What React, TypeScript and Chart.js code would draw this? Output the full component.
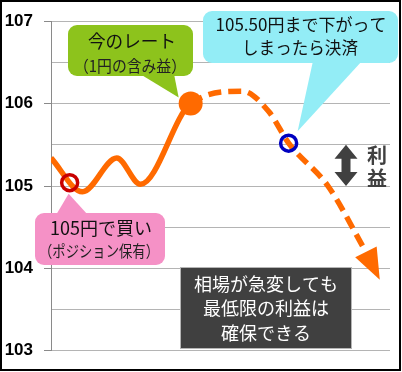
import React, { useEffect, useRef } from "react";
import { Chart, registerables } from "chart.js";

Chart.register(...registerables);

// ---- data ----
const timeValues = [0, 9.3, 19.4, 26.4, 41.2, 56.5, 64.3, 70.1, 81.7, 92.9];
const rateValues = [105.34, 104.93, 105.34, 105.02, 106.0, 106.15, 105.9, 105.52, 105.0, 104.2];
const lastSolidIndex = 4; // segments starting at/after this index are the dashed forecast
const buyPoint = { x: 5.5, y: 105.04 };
const nowPoint = { x: 41.2, y: 106.0 };
const exitPoint = { x: 70.1, y: 105.52 };
const profitRange = [105.5, 105.0];

const yMin = 103;
const yMax = 107;
const yStep = 0.5;
const xMin = 0;
const xMax = 100;

const nowLabel = ["今のレート", "（1円の含み益）"];
const exitLabel = ["105.50円まで下がって", "しまったら決済"];
const buyLabel = ["105円で買い", "（ポジション保有）"];
const noteLabel = ["相場が急変しても", "最低限の利益は", "確保できる"];
const profitLabel = ["利", "益"];

const ORANGE = "#ff6a00";
const JP = '"Noto Sans CJK JP", "Noto Sans", sans-serif';

function roundRectPath(ctx: CanvasRenderingContext2D, x: number, y: number, w: number, h: number, r: number) {
  ctx.moveTo(x + r, y);
  ctx.lineTo(x + w - r, y);
  ctx.arcTo(x + w, y, x + w, y + r, r);
  ctx.lineTo(x + w, y + h - r);
  ctx.arcTo(x + w, y + h, x + w - r, y + h, r);
  ctx.lineTo(x + r, y + h);
  ctx.arcTo(x, y + h, x, y + h - r, r);
  ctx.lineTo(x, y + r);
  ctx.arcTo(x, y, x + r, y, r);
  ctx.closePath();
}

function callout(
  ctx: CanvasRenderingContext2D,
  box: { x: number; y: number; w: number; h: number; r: number },
  fill: string,
  tail: number[][] | null
) {
  ctx.save();
  ctx.fillStyle = fill;
  ctx.beginPath();
  roundRectPath(ctx, box.x, box.y, box.w, box.h, box.r);
  ctx.fill();
  if (tail) {
    ctx.beginPath();
    ctx.moveTo(tail[0][0], tail[0][1]);
    ctx.lineTo(tail[1][0], tail[1][1]);
    ctx.lineTo(tail[2][0], tail[2][1]);
    ctx.closePath();
    ctx.fill();
  }
  ctx.restore();
}

function text(ctx: CanvasRenderingContext2D, s: string, x: number, y: number, size: number, color: string, maxW?: number, weight = "normal") {
  ctx.save();
  ctx.font = `${weight} ${size}px ${JP}`;
  ctx.fillStyle = color;
  ctx.textAlign = "center";
  ctx.textBaseline = "middle";
  if (maxW) ctx.fillText(s, x, y, maxW);
  else ctx.fillText(s, x, y);
  ctx.restore();
}

const annotatePlugin = {
  id: "annotate",
  afterDatasetsDraw(chart: any) {
    const ctx: CanvasRenderingContext2D = chart.ctx;
    const xs = chart.scales.x;
    const ys = chart.scales.y;

    // arrow head at end of forecast line
    const meta = chart.getDatasetMeta(3);
    const pts = meta.data;
    const a = pts[pts.length - 2];
    const b = pts[pts.length - 1];
    const ang = Math.atan2(b.y - a.y, b.x - a.x) + 0.06;
    const dx = Math.cos(ang), dy = Math.sin(ang);
    const len = 31, half = 12;
    ctx.save();
    ctx.fillStyle = ORANGE;
    ctx.beginPath();
    ctx.moveTo(b.x + dx * len, b.y + dy * len);
    ctx.lineTo(b.x - dy * half, b.y + dx * half);
    ctx.lineTo(b.x + dy * half, b.y - dx * half);
    ctx.closePath();
    ctx.fill();
    ctx.restore();

    const buyPx = { x: xs.getPixelForValue(buyPoint.x), y: ys.getPixelForValue(buyPoint.y) };
    const nowPx = { x: xs.getPixelForValue(nowPoint.x), y: ys.getPixelForValue(nowPoint.y) };
    const exitPx = { x: xs.getPixelForValue(exitPoint.x), y: ys.getPixelForValue(exitPoint.y) };

    // green callout
    callout(ctx, { x: 68, y: 25, w: 125, h: 51, r: 9 }, "#8dc31c", [
      [140, 74],
      [nowPx.x - 12, nowPx.y - 6],
      [174, 74],
    ]);
    text(ctx, nowLabel[0], 132, 41, 18, "#111", 88);
    text(ctx, nowLabel[1], 130, 66, 16, "#222", 112);

    // cyan callout
    callout(ctx, { x: 203, y: 11, w: 195, h: 52, r: 9 }, "#93edf6", [
      [313, 61],
      [exitPx.x + 9, exitPx.y - 12],
      [362, 61],
    ]);
    text(ctx, exitLabel[0], 301, 25, 17, "#111", 178);
    text(ctx, exitLabel[1], 300, 48, 17, "#111", 116);

    // pink callout
    callout(ctx, { x: 35, y: 213, w: 130, h: 52, r: 9 }, "#f591c6", [
      [56, 215],
      [buyPx.x - 1, buyPx.y + 11],
      [88, 215],
    ]);
    text(ctx, buyLabel[0], 101, 228, 18, "#111", 106);
    text(ctx, buyLabel[1], 99, 251, 16, "#222", 120);

    // dark note box
    ctx.save();
    ctx.fillStyle = "#404040";
    ctx.fillRect(180, 267, 172, 82);
    ctx.strokeStyle = "#b5b5b5";
    ctx.lineWidth = 1;
    ctx.strokeRect(180.5, 267.5, 171, 81);
    ctx.restore();
    text(ctx, noteLabel[0], 266, 284, 18, "#ffffff", 148);
    text(ctx, noteLabel[1], 266, 308, 18, "#ffffff", 128);
    text(ctx, noteLabel[2], 266, 333, 18, "#ffffff", 94);

    // profit double arrow
    const top = ys.getPixelForValue(profitRange[0]);
    const bot = ys.getPixelForValue(profitRange[1]);
    const cx = 346, hw = 11.5, hh = 14, sw = 4.5;
    ctx.save();
    ctx.fillStyle = "#404040";
    ctx.beginPath();
    ctx.moveTo(cx, top);
    ctx.lineTo(cx + hw, top + hh);
    ctx.lineTo(cx + sw, top + hh);
    ctx.lineTo(cx + sw, bot - hh);
    ctx.lineTo(cx + hw, bot - hh);
    ctx.lineTo(cx, bot);
    ctx.lineTo(cx - hw, bot - hh);
    ctx.lineTo(cx - sw, bot - hh);
    ctx.lineTo(cx - sw, top + hh);
    ctx.lineTo(cx - hw, top + hh);
    ctx.closePath();
    ctx.fill();
    ctx.restore();
    text(ctx, profitLabel[0], 377, 155, 20, "#404040", undefined, "bold");
    text(ctx, profitLabel[1], 377, 178, 20, "#404040", undefined, "bold");
  },
  afterDraw(chart: any) {
    const ctx: CanvasRenderingContext2D = chart.ctx;
    ctx.save();
    ctx.strokeStyle = "#000";
    ctx.lineWidth = 2;
    ctx.strokeRect(1, 1, 399, 369);
    ctx.restore();
  },
};

export default function App() {
  const ref = useRef<HTMLCanvasElement>(null);

  useEffect(() => {
    if (!ref.current) return;
    const lineData = timeValues.map((x, i) => ({ x, y: rateValues[i] }));
    const chart = new Chart(ref.current, {
      type: "line",
      data: {
        datasets: [
          {
            data: [buyPoint],
            showLine: false,
            pointRadius: 8,
            pointBorderWidth: 3.5,
            pointBorderColor: "#c80000",
            pointBackgroundColor: "rgba(0,0,0,0)",
          },
          {
            data: [nowPoint],
            showLine: false,
            pointRadius: 12,
            pointBorderWidth: 0,
            pointBorderColor: ORANGE,
            pointBackgroundColor: ORANGE,
          },
          {
            data: [exitPoint],
            showLine: false,
            pointRadius: 8,
            pointBorderWidth: 3.5,
            pointBorderColor: "#0000c0",
            pointBackgroundColor: "rgba(0,0,0,0)",
          },
          {
            data: lineData,
            borderColor: ORANGE,
            borderWidth: 5.5,
            pointRadius: 0,
            fill: false,
            cubicInterpolationMode: "monotone",
            segment: {
              borderDash: (c: any) => (c.p0DataIndex >= lastSolidIndex ? [13, 7] : []),
            },
          } as any,
        ],
      },
      options: {
        animation: false,
        responsive: false,
        events: [],
        layout: { padding: { top: 17, bottom: 17, right: 6, left: 0 } },
        plugins: { legend: { display: false }, tooltip: { enabled: false }, title: { display: false } },
        scales: {
          x: { type: "linear", min: xMin, max: xMax, display: false },
          y: {
            type: "linear",
            min: yMin,
            max: yMax,
            afterFit: (s: any) => {
              s.width = 51;
            },
            border: { display: true, color: "#8a8a8a", width: 1 },
            grid: {
              color: "#b4b4b4",
              lineWidth: 1,
              tickLength: 7,
              tickColor: (c: any) => (c.tick && Number.isInteger(c.tick.value) ? "#8a8a8a" : "rgba(0,0,0,0)"),
            },
            ticks: {
              stepSize: yStep,
              padding: 11,
              color: "#000",
              font: { family: '"Liberation Sans", Arial, sans-serif', size: 17, weight: "bold" },
              callback: (v: any) => (Number.isInteger(v) ? String(v) : ""),
            },
          },
        },
      },
      plugins: [annotatePlugin],
    } as any);
    return () => chart.destroy();
  }, []);

  return (
    <div style={{ position: "absolute", left: 0, top: 0, width: 402, height: 372, background: "#fff" }}>
      <canvas ref={ref} width={402} height={372} style={{ display: "block" }} />
    </div>
  );
}
